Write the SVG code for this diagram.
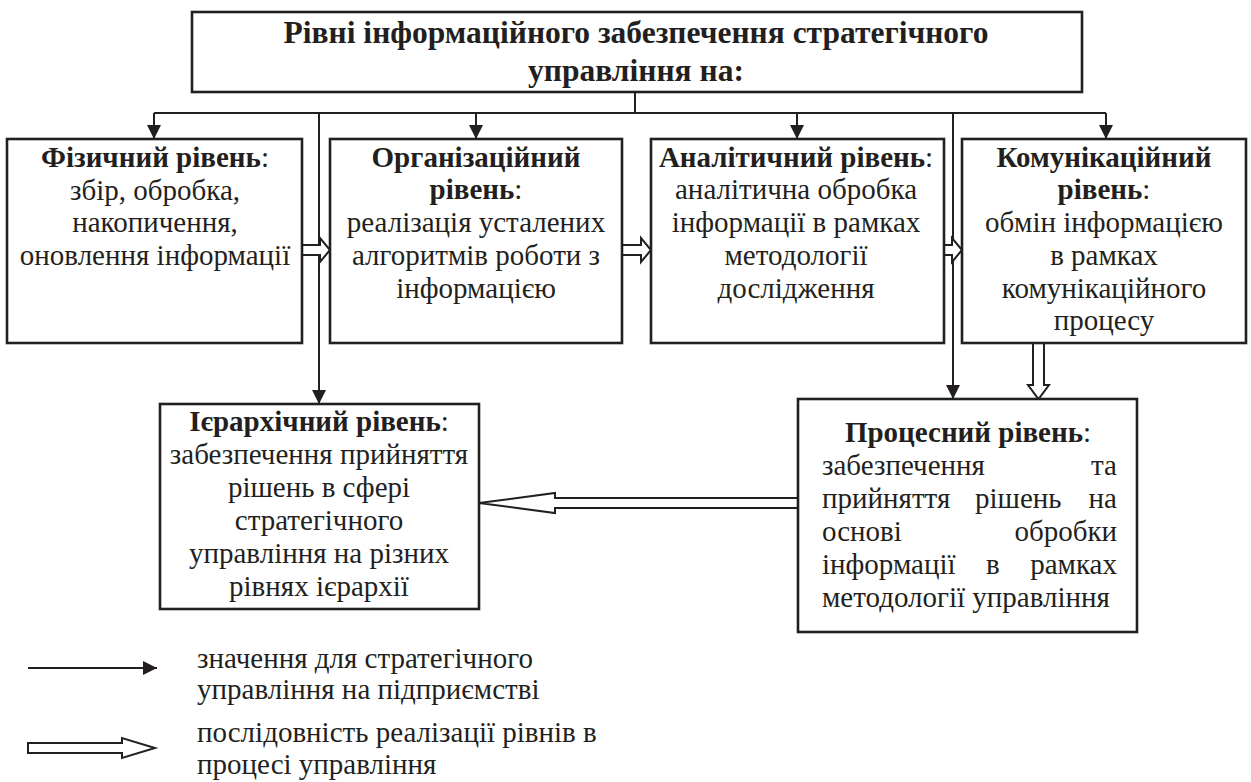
<svg xmlns="http://www.w3.org/2000/svg" width="1251" height="782" viewBox="0 0 1251 782">
<style>
.box{fill:#fff;stroke:#231f20;stroke-width:2.6}
.ln{fill:none;stroke:#231f20;stroke-width:2}
.ho{fill:#fff;stroke:#231f20;stroke-width:2;stroke-linejoin:miter}
text{font-family:"Liberation Serif","Times New Roman",serif;font-size:29px;fill:#231f20}
.c{text-anchor:middle}
.e{text-anchor:end}
.b{font-weight:bold}
.t{font-size:31.5px;font-weight:bold}
</style>
<defs>
<marker id="ah" markerUnits="userSpaceOnUse" markerWidth="16" markerHeight="16" refX="14" refY="7" orient="auto">
<path d="M0,0 L14,7 L0,14 Z" fill="#231f20"/>
</marker>
</defs>
<rect width="1251" height="782" fill="#fff"/>

<g id="connectors">
<path class="ln" d="M635,92 V113"/>
<path class="ln" d="M154,113 H1106"/>
<path class="ln" d="M154,113 V139" marker-end="url(#ah)"/>
<path class="ln" d="M476,113 V139" marker-end="url(#ah)"/>
<path class="ln" d="M797,113 V139" marker-end="url(#ah)"/>
<path class="ln" d="M1106,113 V139" marker-end="url(#ah)"/>
<path class="ln" d="M319,113 V404" marker-end="url(#ah)"/>
<path class="ln" d="M953,113 V399" marker-end="url(#ah)"/>
<polygon class="ho" points="302,245 320,245 320,238 330,250 320,262 320,255 302,255"/>
<polygon class="ho" points="622,245 641,245 641,238 651,250 641,262 641,255 622,255"/>
<polygon class="ho" points="944,245 952,245 952,238 962,250 952,262 952,255 944,255"/>
<polygon class="ho" points="1033,343 1033,385 1028,385 1038.5,399 1049,385 1044,385 1044,343"/>
<polygon class="ho" points="798,498 555,498 555,493 479,503 555,513 555,508 798,508"/>
</g>

<g id="title">
<rect class="box" x="192" y="12" width="890" height="80"/>
<text class="t c" x="636" y="43">Рівні інформаційного забезпечення стратегічного</text>
<text class="t c" x="636" y="81">управління на:</text>
</g>

<g id="physical">
<rect class="box" x="7" y="139" width="295" height="204"/>
<text class="c" x="155" y="167"><tspan class="b">Фізичний рівень</tspan>:</text>
<text class="c" x="155" y="200">збір, обробка,</text>
<text class="c" x="155" y="232">накопичення,</text>
<text class="c" x="155" y="265">оновлення інформації</text>
</g>

<g id="organizational">
<rect class="box" x="330" y="139" width="292" height="204"/>
<text class="c b" x="476" y="167">Організаційний</text>
<text class="c" x="476" y="199"><tspan class="b">рівень</tspan>:</text>
<text class="c" x="476" y="232">реалізація усталених</text>
<text class="c" x="476" y="265">алгоритмів роботи з</text>
<text class="c" x="476" y="298">інформацією</text>
</g>

<g id="analytical">
<rect class="box" x="651" y="139" width="293" height="204"/>
<text class="c" x="796" y="167"><tspan class="b">Аналітичний рівень</tspan>:</text>
<text class="c" x="796" y="199">аналітична обробка</text>
<text class="c" x="796" y="232">інформації в рамках</text>
<text class="c" x="796" y="265">методології</text>
<text class="c" x="796" y="298">дослідження</text>
</g>

<g id="communication">
<rect class="box" x="962" y="139" width="284" height="204"/>
<text class="c b" x="1104" y="167">Комунікаційний</text>
<text class="c" x="1104" y="199"><tspan class="b">рівень</tspan>:</text>
<text class="c" x="1104" y="232">обмін інформацією</text>
<text class="c" x="1104" y="265">в рамках</text>
<text class="c" x="1104" y="298">комунікаційного</text>
<text class="c" x="1104" y="330">процесу</text>
</g>

<g id="hierarchical">
<rect class="box" x="160" y="404" width="319" height="205"/>
<text class="c" x="319" y="431"><tspan class="b">Ієрархічний рівень</tspan>:</text>
<text class="c" x="319" y="464">забезпечення прийняття</text>
<text class="c" x="319" y="497">рішень в сфері</text>
<text class="c" x="319" y="530">стратегічного</text>
<text class="c" x="319" y="563">управління на різних</text>
<text class="c" x="319" y="596">рівнях ієрархії</text>
</g>

<g id="process">
<rect class="box" x="798" y="399" width="339" height="233"/>
<text class="c" x="968" y="442"><tspan class="b">Процесний рівень</tspan>:</text>
<text x="822" y="475">забезпечення</text>
<text class="e" x="1117" y="475">та</text>
<text x="822" y="508">прийняття</text>
<text x="975" y="508">рішень</text>
<text class="e" x="1117" y="508">на</text>
<text x="822" y="541">основі</text>
<text class="e" x="1117" y="541">обробки</text>
<text x="822" y="574">інформації</text>
<text x="986" y="574">в</text>
<text class="e" x="1117" y="574">рамках</text>
<text x="822" y="607">методології управління</text>
</g>

<g id="legend">
<path class="ln" d="M28,668 H157" marker-end="url(#ah)"/>
<text x="197" y="668">значення для стратегічного</text>
<text x="197" y="699">управління на підприємстві</text>
<polygon class="ho" points="28,743 122,743 122,738 155,748 122,758 122,753 28,753"/>
<text x="197" y="742">послідовність реалізації рівнів в</text>
<text x="197" y="774">процесі управління</text>
</g>
</svg>
